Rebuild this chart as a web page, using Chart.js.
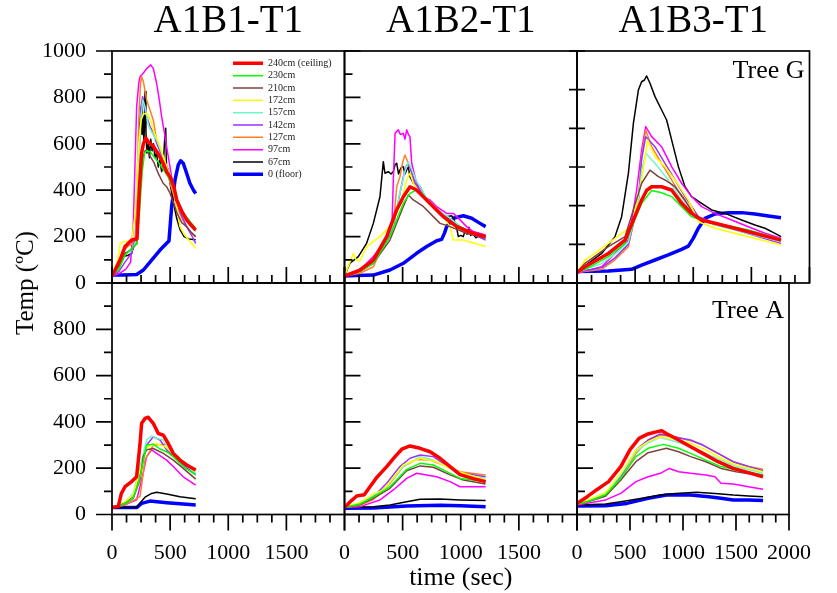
<!DOCTYPE html>
<html><head><meta charset="utf-8">
<script src="https://cdn.jsdelivr.net/npm/chart.js@4.4.1/dist/chart.umd.min.js"></script>
<style>
html,body{margin:0;padding:0;background:#fff;width:837px;height:593px;overflow:hidden;position:relative;}
canvas{position:absolute;left:0;top:0;}
#ytitle{position:absolute;left:25px;top:283px;transform:translate(-50%,-50%) rotate(-90deg);font:25px 'Liberation Serif','Times New Roman',serif;white-space:nowrap;color:#000;}
</style></head>
<body>
<canvas id="p0" width="837" height="593"></canvas>
<canvas id="p1" width="837" height="593"></canvas>
<canvas id="p2" width="837" height="593"></canvas>
<canvas id="p3" width="837" height="593"></canvas>
<canvas id="p4" width="837" height="593"></canvas>
<canvas id="p5" width="837" height="593"></canvas>
<div id="ytitle">Temp (ºC)</div>
<script>
// ---- labels ----
const seriesLabels = ['240cm (ceiling)','230cm','210cm','172cm','157cm','142cm','127cm','97cm','67cm','0 (floor)'];
const panelTitles = ['A1B1-T1','A1B2-T1','A1B3-T1'];
const treeLabels = ['Tree G','Tree A'];
const xAxisTitle = 'time (sec)';
const timeTicks = [0,500,1000,1500,2000];
const tempTicks = [0,200,400,600,800,1000];

// ---- A1B1-T1, Tree G : [time s, temp C] ----
const B1G_240 = [[0,30],[69,99],[112,157],[169,185],[215,190],[235,400],[255,560],[270,600],[290,625],[310,610],[330,600],[355,590],[380,570],[400,555],[440,516],[470,480],[500,458],[530,420],[556,358],[600,310],[642,272],[680,250],[720,228]];
const B1G_230 = [[0,30],[60,60],[112,120],[170,150],[215,170],[240,330],[260,480],[280,560],[300,570],[330,565],[360,545],[400,520],[440,490],[480,460],[520,420],[560,360],[600,310],[642,285],[680,260],[720,236]];
const B1G_210 = [[0,30],[69,80],[112,128],[170,145],[215,170],[240,400],[260,530],[285,570],[300,573],[330,545],[360,520],[400,470],[440,430],[470,415],[500,386],[530,345],[560,300],[600,260],[642,243],[680,220],[720,200]];
const B1G_172 = [[0,30],[50,100],[70,170],[100,178],[140,180],[170,185],[200,300],[230,600],[250,700],[270,730],[300,731],[330,703],[360,650],[390,620],[420,580],[470,500],[500,460],[527,400],[560,320],[585,243],[620,210],[660,185],[720,149]];
const B1G_157 = [[0,30],[60,70],[112,128],[170,140],[205,180],[230,500],[250,720],[265,789],[285,760],[312,680],[341,650],[384,616],[427,560],[470,500],[500,470],[530,420],[560,370],[600,310],[640,270],[680,245],[720,221]];
const B1G_142 = [[0,30],[60,50],[112,90],[170,130],[205,200],[230,550],[250,760],[264,803],[285,740],[300,717],[327,674],[355,650],[384,602],[420,560],[441,530],[470,480],[499,444],[530,400],[556,344],[600,290],[642,243],[680,210],[720,171]];
const B1G_127 = [[0,30],[60,60],[100,140],[140,160],[180,170],[198,185],[215,400],[230,700],[245,860],[255,889],[270,868],[298,789],[327,746],[355,703],[384,616],[420,560],[441,545],[470,501],[500,430],[530,380],[556,329],[600,280],[642,243],[680,215],[720,200]];
const B1G_97  = [[0,30],[60,40],[120,60],[160,90],[183,250],[200,550],[212,760],[230,860],[241,889],[270,905],[300,925],[333,940],[355,925],[384,861],[407,789],[427,717],[450,650],[470,588],[499,501],[527,415],[556,370],[585,329],[642,272],[680,245],[720,226]];
const B1G_67  = [[0,30],[40,50],[69,100],[97,114],[140,120],[169,128],[200,180],[212,243],[230,500],[241,688],[250,760],[258,640],[266,720],[275,600],[284,825],[292,650],[300,560],[312,600],[322,540],[333,620],[345,570],[357,600],[370,540],[384,560],[398,500],[412,530],[427,480],[440,500],[452,610],[462,667],[470,470],[485,490],[499,430],[527,350],[556,280],[585,230],[620,200],[660,190],[720,186]];
const B1G_0   = [[0,34],[100,35],[212,37],[270,56],[341,99],[413,142],[470,171],[490,181],[513,329],[542,444],[570,509],[590,527],[613,516],[642,473],[670,430],[700,401],[720,386]];

// ---- A1B2-T1, Tree G ----
const B2G_240 = [[0,30],[133,56],[248,99],[363,200],[449,315],[506,372],[563,415],[620,401],[678,372],[764,329],[850,286],[965,243],[1108,214],[1214,200]];
const B2G_230 = [[0,30],[133,50],[248,85],[391,200],[506,344],[563,386],[620,401],[664,386],[736,344],[822,300],[936,257],[1108,214],[1214,200]];
const B2G_210 = [[0,30],[133,50],[248,85],[391,185],[506,330],[549,379],[592,358],[678,330],[764,286],[822,257],[908,243],[1050,214],[1214,193]];
const B2G_172 = [[0,30],[47,90],[76,128],[100,100],[133,95],[190,157],[305,200],[391,243],[449,300],[506,386],[535,444],[563,473],[592,430],[650,386],[736,344],[850,286],[908,243],[936,185],[1022,185],[1214,157]];
const B2G_157 = [[0,30],[133,60],[248,100],[363,190],[420,250],[477,390],[520,480],[549,523],[578,490],[620,440],[700,370],[793,320],[908,280],[1022,235],[1214,193]];
const B2G_142 = [[0,30],[133,50],[248,90],[363,185],[420,243],[477,386],[506,458],[535,509],[563,501],[606,430],[678,372],[793,315],[908,272],[1022,229],[1214,185]];
const B2G_127 = [[0,30],[133,42],[248,70],[363,200],[420,243],[449,415],[477,458],[500,520],[520,552],[549,516],[578,473],[620,415],[678,372],[764,329],[879,286],[965,243],[1050,214],[1214,200]];
const B2G_97  = [[0,30],[133,56],[248,114],[363,185],[406,214],[420,444],[435,645],[463,660],[480,640],[506,645],[520,620],[535,660],[550,640],[563,631],[578,516],[620,430],[678,372],[736,358],[793,329],[879,300],[936,300],[994,272],[1050,243],[1108,222],[1214,207]];
const B2G_67  = [[0,30],[47,85],[119,114],[190,171],[248,257],[305,372],[334,523],[348,473],[377,480],[400,470],[420,480],[435,510],[449,516],[465,470],[477,487],[492,500],[506,501],[520,470],[535,487],[549,500],[563,458],[592,430],[650,415],[707,358],[764,329],[822,300],[879,286],[920,290],[936,280],[960,250],[979,200],[1000,205],[1022,200],[1040,230],[1055,210],[1070,240],[1085,205],[1100,215],[1130,195],[1160,205],[1190,195],[1214,200]];
const B2G_0   = [[0,30],[100,32],[248,34],[391,56],[506,85],[620,128],[707,157],[793,182],[836,188],[860,215],[879,243],[936,279],[1022,290],[1094,279],[1166,257],[1214,243]];

// ---- A1B3-T1, Tree G (axis 0-1200) ----
const B3G_240 = [[0,55],[69,84],[270,153],[413,222],[556,429],[600,480],[642,498],[728,498],[814,481],[900,412],[986,360],[1072,326],[1187,309],[1416,274],[1755,222]];
const B3G_230 = [[0,55],[100,80],[270,136],[413,205],[556,412],[642,478],[728,467],[814,447],[900,395],[986,343],[1072,326],[1273,300],[1474,274],[1755,226]];
const B3G_210 = [[0,55],[69,102],[270,188],[413,240],[556,516],[628,584],[700,550],[757,533],[843,498],[929,429],[1015,343],[1187,309],[1416,274],[1755,222]];
const B3G_172 = [[0,55],[69,119],[155,153],[270,205],[384,257],[470,291],[556,533],[608,740],[671,653],[757,602],[843,533],[958,429],[1044,317],[1187,283],[1416,248],[1755,197]];
const B3G_157 = [[0,55],[212,100],[327,150],[442,210],[528,420],[556,580],[591,671],[671,619],[786,533],[900,429],[1015,343],[1187,300],[1416,265],[1755,214]];
const B3G_142 = [[0,55],[212,80],[327,130],[442,200],[528,420],[556,640],[591,757],[671,705],[757,619],[843,533],[929,447],[1044,343],[1187,309],[1416,265],[1755,205]];
const B3G_127 = [[0,55],[212,70],[327,120],[442,188],[528,429],[556,653],[591,791],[642,705],[728,619],[814,533],[900,447],[986,378],[1072,326],[1273,291],[1474,265],[1755,222]];
const B3G_97  = [[0,50],[212,84],[327,153],[442,222],[513,481],[556,688],[591,809],[642,757],[728,705],[814,602],[900,516],[986,447],[1072,395],[1187,360],[1330,326],[1474,291],[1617,257],[1755,231]];
const B3G_67  = [[0,59],[97,102],[212,153],[327,240],[384,343],[442,567],[485,826],[528,998],[556,1041],[580,1050],[599,1071],[628,1033],[671,964],[728,895],[771,843],[814,740],[872,602],[929,498],[986,447],[1072,412],[1158,378],[1273,360],[1416,326],[1531,300],[1617,283],[1703,257],[1755,240]];
const B3G_0   = [[0,59],[270,62],[470,71],[556,93],[671,119],[785,145],[900,174],[958,191],[1000,231],[1044,283],[1101,334],[1187,357],[1302,364],[1416,364],[1531,357],[1646,347],[1755,338]];

// ---- A1B1-T1, Tree A ----
const B1A_240 = [[0,30],[54,35],[80,90],[112,120],[169,142],[212,163],[240,300],[255,394],[284,415],[312,420],[355,394],[398,350],[441,343],[484,307],[527,264],[585,235],[642,214],[720,192]];
const B1A_230 = [[0,30],[100,45],[183,70],[241,160],[298,300],[355,304],[413,283],[470,271],[527,250],[613,207],[720,171]];
const B1A_210 = [[0,30],[100,45],[183,70],[241,150],[269,250],[298,280],[355,285],[441,264],[527,235],[613,199],[720,153]];
const B1A_172 = [[0,30],[100,50],[183,85],[241,190],[298,290],[384,307],[470,290],[527,260],[613,225],[720,185]];
const B1A_157 = [[0,30],[100,50],[183,91],[241,207],[298,322],[341,339],[384,329],[441,322],[499,279],[585,235],[720,178]];
const B1A_142 = [[0,30],[100,45],[183,80],[241,180],[298,300],[355,336],[413,322],[470,279],[600,220],[720,171]];
const B1A_127 = [[0,30],[100,40],[183,60],[241,77],[284,235],[355,300],[470,304],[527,264],[613,228],[720,192]];
const B1A_97  = [[0,30],[100,40],[212,63],[255,149],[298,250],[341,279],[384,264],[470,235],[527,207],[613,163],[720,127]];
const B1A_67  = [[0,30],[212,30],[241,50],[284,75],[341,91],[384,96],[470,89],[585,77],[720,68]];
const B1A_0   = [[0,30],[212,30],[255,48],[327,58],[470,51],[613,45],[720,41]];

// ---- A1B2-T1, Tree A ----
const B2A_240 = [[0,30],[60,60],[105,80],[170,85],[219,120],[277,160],[363,207],[435,250],[493,282],[563,296],[650,286],[736,271],[822,243],[908,207],[994,172],[1108,155],[1214,142]];
const B2A_230 = [[0,30],[133,45],[248,75],[391,120],[535,195],[650,221],[764,214],[879,185],[994,156],[1214,142]];
const B2A_210 = [[0,30],[133,43],[248,70],[391,113],[535,189],[650,210],[764,204],[908,171],[1022,149],[1214,132]];
const B2A_172 = [[0,30],[133,52],[248,88],[334,106],[506,214],[650,243],[793,228],[936,192],[1214,149]];
const B2A_157 = [[0,30],[133,50],[248,85],[334,106],[506,207],[650,250],[764,235],[908,199],[1051,171],[1214,156]];
const B2A_142 = [[0,30],[133,45],[248,77],[363,135],[477,207],[563,243],[650,257],[764,250],[850,221],[936,192],[1022,178],[1214,163]];
const B2A_127 = [[0,30],[133,40],[248,65],[391,135],[506,207],[621,238],[736,235],[850,214],[994,185],[1214,171]];
const B2A_97  = [[0,30],[133,34],[305,63],[420,106],[535,156],[621,178],[707,171],[793,163],[908,142],[994,120],[1214,120]];
const B2A_67  = [[0,30],[248,34],[391,41],[535,55],[650,66],[822,67],[994,63],[1214,60]];
const B2A_0   = [[0,27],[248,28],[535,37],[822,40],[1000,38],[1214,34]];

// ---- A1B3-T1, Tree A ----
const B3A_240 = [[0,48],[97,77],[183,106],[298,142],[413,207],[499,279],[585,329],[671,348],[757,358],[800,362],[843,350],[958,322],[1072,293],[1187,264],[1330,228],[1474,199],[1617,181],[1755,163]];
const B3A_230 = [[0,45],[100,55],[270,85],[413,156],[556,250],[671,286],[814,303],[958,286],[1072,264],[1216,235],[1359,207],[1502,192],[1755,171]];
const B3A_210 = [[0,45],[100,55],[270,80],[413,149],[556,228],[671,267],[843,286],[958,271],[1072,250],[1216,228],[1359,199],[1502,185],[1755,166]];
const B3A_172 = [[0,45],[100,62],[270,95],[413,178],[556,279],[671,315],[786,336],[929,325],[1072,307],[1216,279],[1359,243],[1502,214],[1755,185]];
const B3A_157 = [[0,45],[100,60],[270,90],[413,171],[556,271],[671,310],[786,333],[929,315],[1072,293],[1216,264],[1359,235],[1502,207],[1755,178]];
const B3A_142 = [[0,45],[100,60],[270,85],[413,163],[556,279],[671,322],[786,348],[900,336],[1072,322],[1187,300],[1330,264],[1474,228],[1617,207],[1755,189]];
const B3A_127 = [[0,45],[100,55],[270,80],[413,149],[556,264],[671,322],[786,343],[929,336],[1072,319],[1187,300],[1330,264],[1474,228],[1617,207],[1755,195]];
const B3A_97  = [[0,41],[270,63],[413,91],[556,142],[671,163],[786,178],[872,199],[958,185],[1072,178],[1216,171],[1302,163],[1359,135],[1474,132],[1617,120],[1755,109]];
const B3A_67  = [[0,41],[270,45],[413,55],[613,70],[785,84],[929,91],[1130,96],[1302,91],[1474,84],[1617,80],[1755,77]];
const B3A_0   = [[0,37],[270,38],[470,48],[671,70],[843,84],[1072,84],[1244,77],[1359,70],[1474,63],[1617,63],[1755,60]];

// ---- assembly tables ----
const panelSeries = [
  [B1G_240,B1G_230,B1G_210,B1G_172,B1G_157,B1G_142,B1G_127,B1G_97,B1G_67,B1G_0],
  [B2G_240,B2G_230,B2G_210,B2G_172,B2G_157,B2G_142,B2G_127,B2G_97,B2G_67,B2G_0],
  [B3G_240,B3G_230,B3G_210,B3G_172,B3G_157,B3G_142,B3G_127,B3G_97,B3G_67,B3G_0],
  [B1A_240,B1A_230,B1A_210,B1A_172,B1A_157,B1A_142,B1A_127,B1A_97,B1A_67,B1A_0],
  [B2A_240,B2A_230,B2A_210,B2A_172,B2A_157,B2A_142,B2A_127,B2A_97,B2A_67,B2A_0],
  [B3A_240,B3A_230,B3A_210,B3A_172,B3A_157,B3A_142,B3A_127,B3A_97,B3A_67,B3A_0]
];
const panelYMax = [1000,1000,1200,1000,1000,1000];

// ---- styles & layout ----
const seriesColors = ['#ff0000','#00ff00','#804040','#ffff00','#70f5cc','#9933ff','#ff7f27','#ff00ff','#000000','#0000ff'];
const seriesWidths = [3.5,1.5,1.5,1.5,1.5,1.5,1.5,1.5,1.5,3.5];
const W = 837, H = 593;
const colL = [112,344.5,577], colR = [344.5,577,809.5];
const rowT = [51,283], rowB = [283,514.5];
const yTickDir = ['out','in','both','out','in','in'];
const xTickDir = ['in','in','in','out','out','out'];

Chart.defaults.font.family = "'Liberation Serif','Times New Roman',serif";
Chart.defaults.color = '#000';

const frameTicks = {
  id: 'frameTicks',
  afterDatasetsDraw(chart, args, o) {
    const {ctx, chartArea: a} = chart;
    const xs = chart.scales.x, ys = chart.scales.y;
    ctx.save();
    ctx.strokeStyle = '#000';
    ctx.lineWidth = 1.7;
    ctx.strokeRect(a.left, a.top, a.right - a.left, a.bottom - a.top);
    ctx.beginPath();
    const yt = o.y;
    for (let v = 0; v <= ys.max + 1e-6; v += yt.minor) {
      const major = Math.abs(v / yt.major - Math.round(v / yt.major)) < 1e-6;
      const len = major ? yt.majorLen : yt.minorLen;
      const py = ys.getPixelForValue(v);
      if (yt.dir === 'out') { ctx.moveTo(a.left - len, py); ctx.lineTo(a.left, py); }
      else if (yt.dir === 'in') { ctx.moveTo(a.left, py); ctx.lineTo(a.left + len, py); }
      else { ctx.moveTo(a.left - len, py); ctx.lineTo(a.left + len, py); }
    }
    const xt = o.x;
    for (let t = 0; t <= xs.max + 1e-6; t += xt.minor) {
      const major = Math.abs(t / xt.major - Math.round(t / xt.major)) < 1e-6;
      const len = major ? xt.majorLen : xt.minorLen;
      const px = xs.getPixelForValue(t);
      if (xt.dir === 'in') { ctx.moveTo(px, a.bottom); ctx.lineTo(px, a.bottom - len); }
      else { ctx.moveTo(px, a.bottom); ctx.lineTo(px, a.bottom + len); }
    }
    ctx.stroke();
    ctx.restore();
  }
};

const cornerText = {
  id: 'cornerText',
  afterDraw(chart, args, o) {
    if (!o || !o.text) return;
    const {ctx, chartArea: a} = chart;
    ctx.save();
    ctx.font = "26px 'Liberation Serif','Times New Roman',serif";
    ctx.fillStyle = '#000';
    ctx.textAlign = 'right';
    ctx.textBaseline = 'alphabetic';
    ctx.fillText(o.text, a.right - o.dx, a.top + o.dy);
    ctx.restore();
  }
};

const legendPlace = {
  id: 'legendPlace',
  afterLayout(chart) {
    const lg = chart.legend;
    if (!lg || !chart.options.plugins.legend.display) return;
    const w = lg.width;
    lg.left = 230.7; lg.top = 56;
    lg.right = lg.left + w; lg.bottom = lg.top + 170;
  }
};

for (let p = 0; p < 6; p++) {
  const r = Math.floor(p / 3), c = p % 3;
  const datasets = panelSeries[p].map((pts, i) => ({
    label: seriesLabels[i],
    data: pts.map(([t, v]) => ({x: t, y: v})),
    borderColor: seriesColors[i],
    backgroundColor: seriesColors[i],
    borderWidth: seriesWidths[i],
    pointRadius: 0,
    tension: 0,
    fill: false,
    borderJoinStyle: 'round'
  }));
  const both = yTickDir[p] === 'both';
  new Chart(document.getElementById('p' + p), {
    type: 'line',
    data: {datasets},
    plugins: [frameTicks, cornerText, legendPlace],
    options: {
      responsive: false,
      animation: false,
      devicePixelRatio: 1,
      events: [],
      layout: {padding: {
        left: c === 0 ? 0 : colL[c], right: W - colR[c],
        top: r === 0 ? 0 : rowT[1],
        bottom: r === 0 ? H - rowB[0] : 0
      }},
      scales: {
        x: {
          type: 'linear', min: timeTicks[0], max: timeTicks[timeTicks.length - 1],
          grid: {display: false, drawTicks: false}, border: {display: false},
          afterBuildTicks: s => { s.ticks = timeTicks.map(v => ({value: v})); },
          ticks: {display: r === 1, autoSkip: false, maxRotation: 0, padding: 26,
                  font: {size: 22}, color: '#000',
                  callback: v => (c < 2 && v === 2000) ? '' : String(v)},
          title: {display: r === 1 && c === 1, text: xAxisTitle, color: '#000',
                  font: {size: 26, lineHeight: 1}, padding: {top: 0, bottom: 2}},
          afterFit: s => { s.height = r === 1 ? H - rowB[1] : 0; }
        },
        y: {
          type: 'linear', min: 0, max: panelYMax[p],
          grid: {display: false, drawTicks: false}, border: {display: false},
          afterBuildTicks: s => { if (c === 0) s.ticks = tempTicks.map(v => ({value: v})); },
          ticks: {display: c === 0, autoSkip: false, padding: 26, stepSize: 200,
                  font: {size: 22}, color: '#000',
                  callback: v => (r === 1 && v === 1000) ? '' : String(v)},
          afterFit: s => { s.width = c === 0 ? colL[0] : 0; }
        }
      },
      plugins: {
        tooltip: {enabled: false},
        title: {display: r === 0, text: panelTitles[c], color: '#000', fullSize: false,
                font: {size: 39, lineHeight: 1, weight: 'normal'},
                padding: {top: 2, bottom: 10}},
        legend: {
          display: p === 0, position: 'chartArea', align: 'start',
          labels: {usePointStyle: true, pointStyle: 'line', pointStyleWidth: 30,
                   boxHeight: 10, padding: 2.33, color: '#222', font: {size: 10}}
        },
        frameTicks: {
          y: both ? {dir: 'both', minor: 200, major: 200, minorLen: 8, majorLen: 8}
                  : {dir: yTickDir[p], minor: 100, major: 200, minorLen: 8, majorLen: 16},
          x: {dir: xTickDir[p], minor: 125, major: 500, minorLen: 8, majorLen: 16}
        },
        cornerText: c === 2 ? {text: treeLabels[r], dx: 5, dy: r === 0 ? 27.3 : 35.3} : {}
      }
    }
  });
}
</script>
</body></html>
